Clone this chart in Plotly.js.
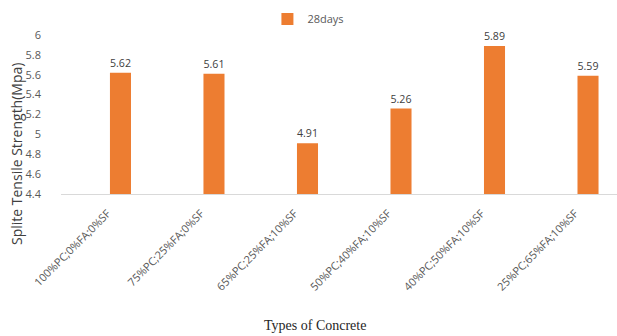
<!DOCTYPE html>
<html><head><meta charset="utf-8">
<script src="https://cdn.plot.ly/plotly-3.0.1.min.js"></script>
<style>html,body{margin:0;padding:0;background:#fff}#c{width:617px;height:336px}</style>
</head><body><div id="c"></div>
<script>
const categories = ["100%PC;0%FA;0%SF","75%PC;25%FA;0%SF","65%PC;25%FA;10%SF","50%PC;40%FA;10%SF","40%PC;50%FA;10%SF","25%PC;65%FA;10%SF"];
const days28 = [5.62, 5.61, 4.91, 5.26, 5.89, 5.59];
const seriesName = "28days";
const yTicks = [4.4, 4.6, 4.8, 5, 5.2, 5.4, 5.6, 5.8, 6];

const trace = {
  type: 'bar', x: categories, y: days28, name: seriesName,
  width: 0.225,
  marker: {color: '#ED7D31'},
  text: days28.map(v => v.toFixed(2)), textposition: 'outside',
  textfont: {family: 'Open Sans', size: 11, color: '#404040'},
  cliponaxis: false, showlegend: true
};
const layout = {
  width: 617, height: 336,
  margin: {l: 61, r: 0, t: 35, b: 142},
  paper_bgcolor: '#fff', plot_bgcolor: '#fff',
  showlegend: true,
  legend: {orientation: 'h', x: 0.445, xanchor: 'center', y: 1.10, yanchor: 'middle',
    font: {family: 'Open Sans', size: 11, color: '#595959'}, itemwidth: 30},
  xaxis: {range: [-0.636, 5.31], tickangle: -45, showgrid: false, zeroline: false,
    showline: true, linecolor: '#d9d9d9', linewidth: 1, ticks: '',
    ticklabelstandoff: 8, ticklabelshift: -13,
    tickfont: {family: 'Open Sans', size: 11, color: '#595959'},
    title: {text: ''}},
  yaxis: {range: [4.4, 6.0], tickvals: yTicks, ticktext: yTicks.map(String),
    showgrid: false, zeroline: false, showline: false, ticks: '', ticklabelstandoff: 19,
    tickfont: {family: 'Open Sans', size: 11, color: '#595959'}},
  annotations: [
    {text: 'Splite Tensile Strength(Mpa)', xref: 'paper', yref: 'paper', x: -61/556 + 16/556, xanchor: 'center',
     y: (194-154)/159, yanchor: 'middle', textangle: -90, showarrow: false,
     font: {family: 'Open Sans', size: 14, color: '#404040'}},
    {text: 'Types of Concrete', xref: 'paper', yref: 'paper', x: (315-61)/556, xanchor: 'center',
     y: (194-325)/159, yanchor: 'middle', showarrow: false,
     font: {family: 'Liberation Serif', size: 14, color: '#262626'}}
  ]
};
Plotly.newPlot('c', [trace], layout, {displayModeBar: false, staticPlot: true});
</script></body></html>
